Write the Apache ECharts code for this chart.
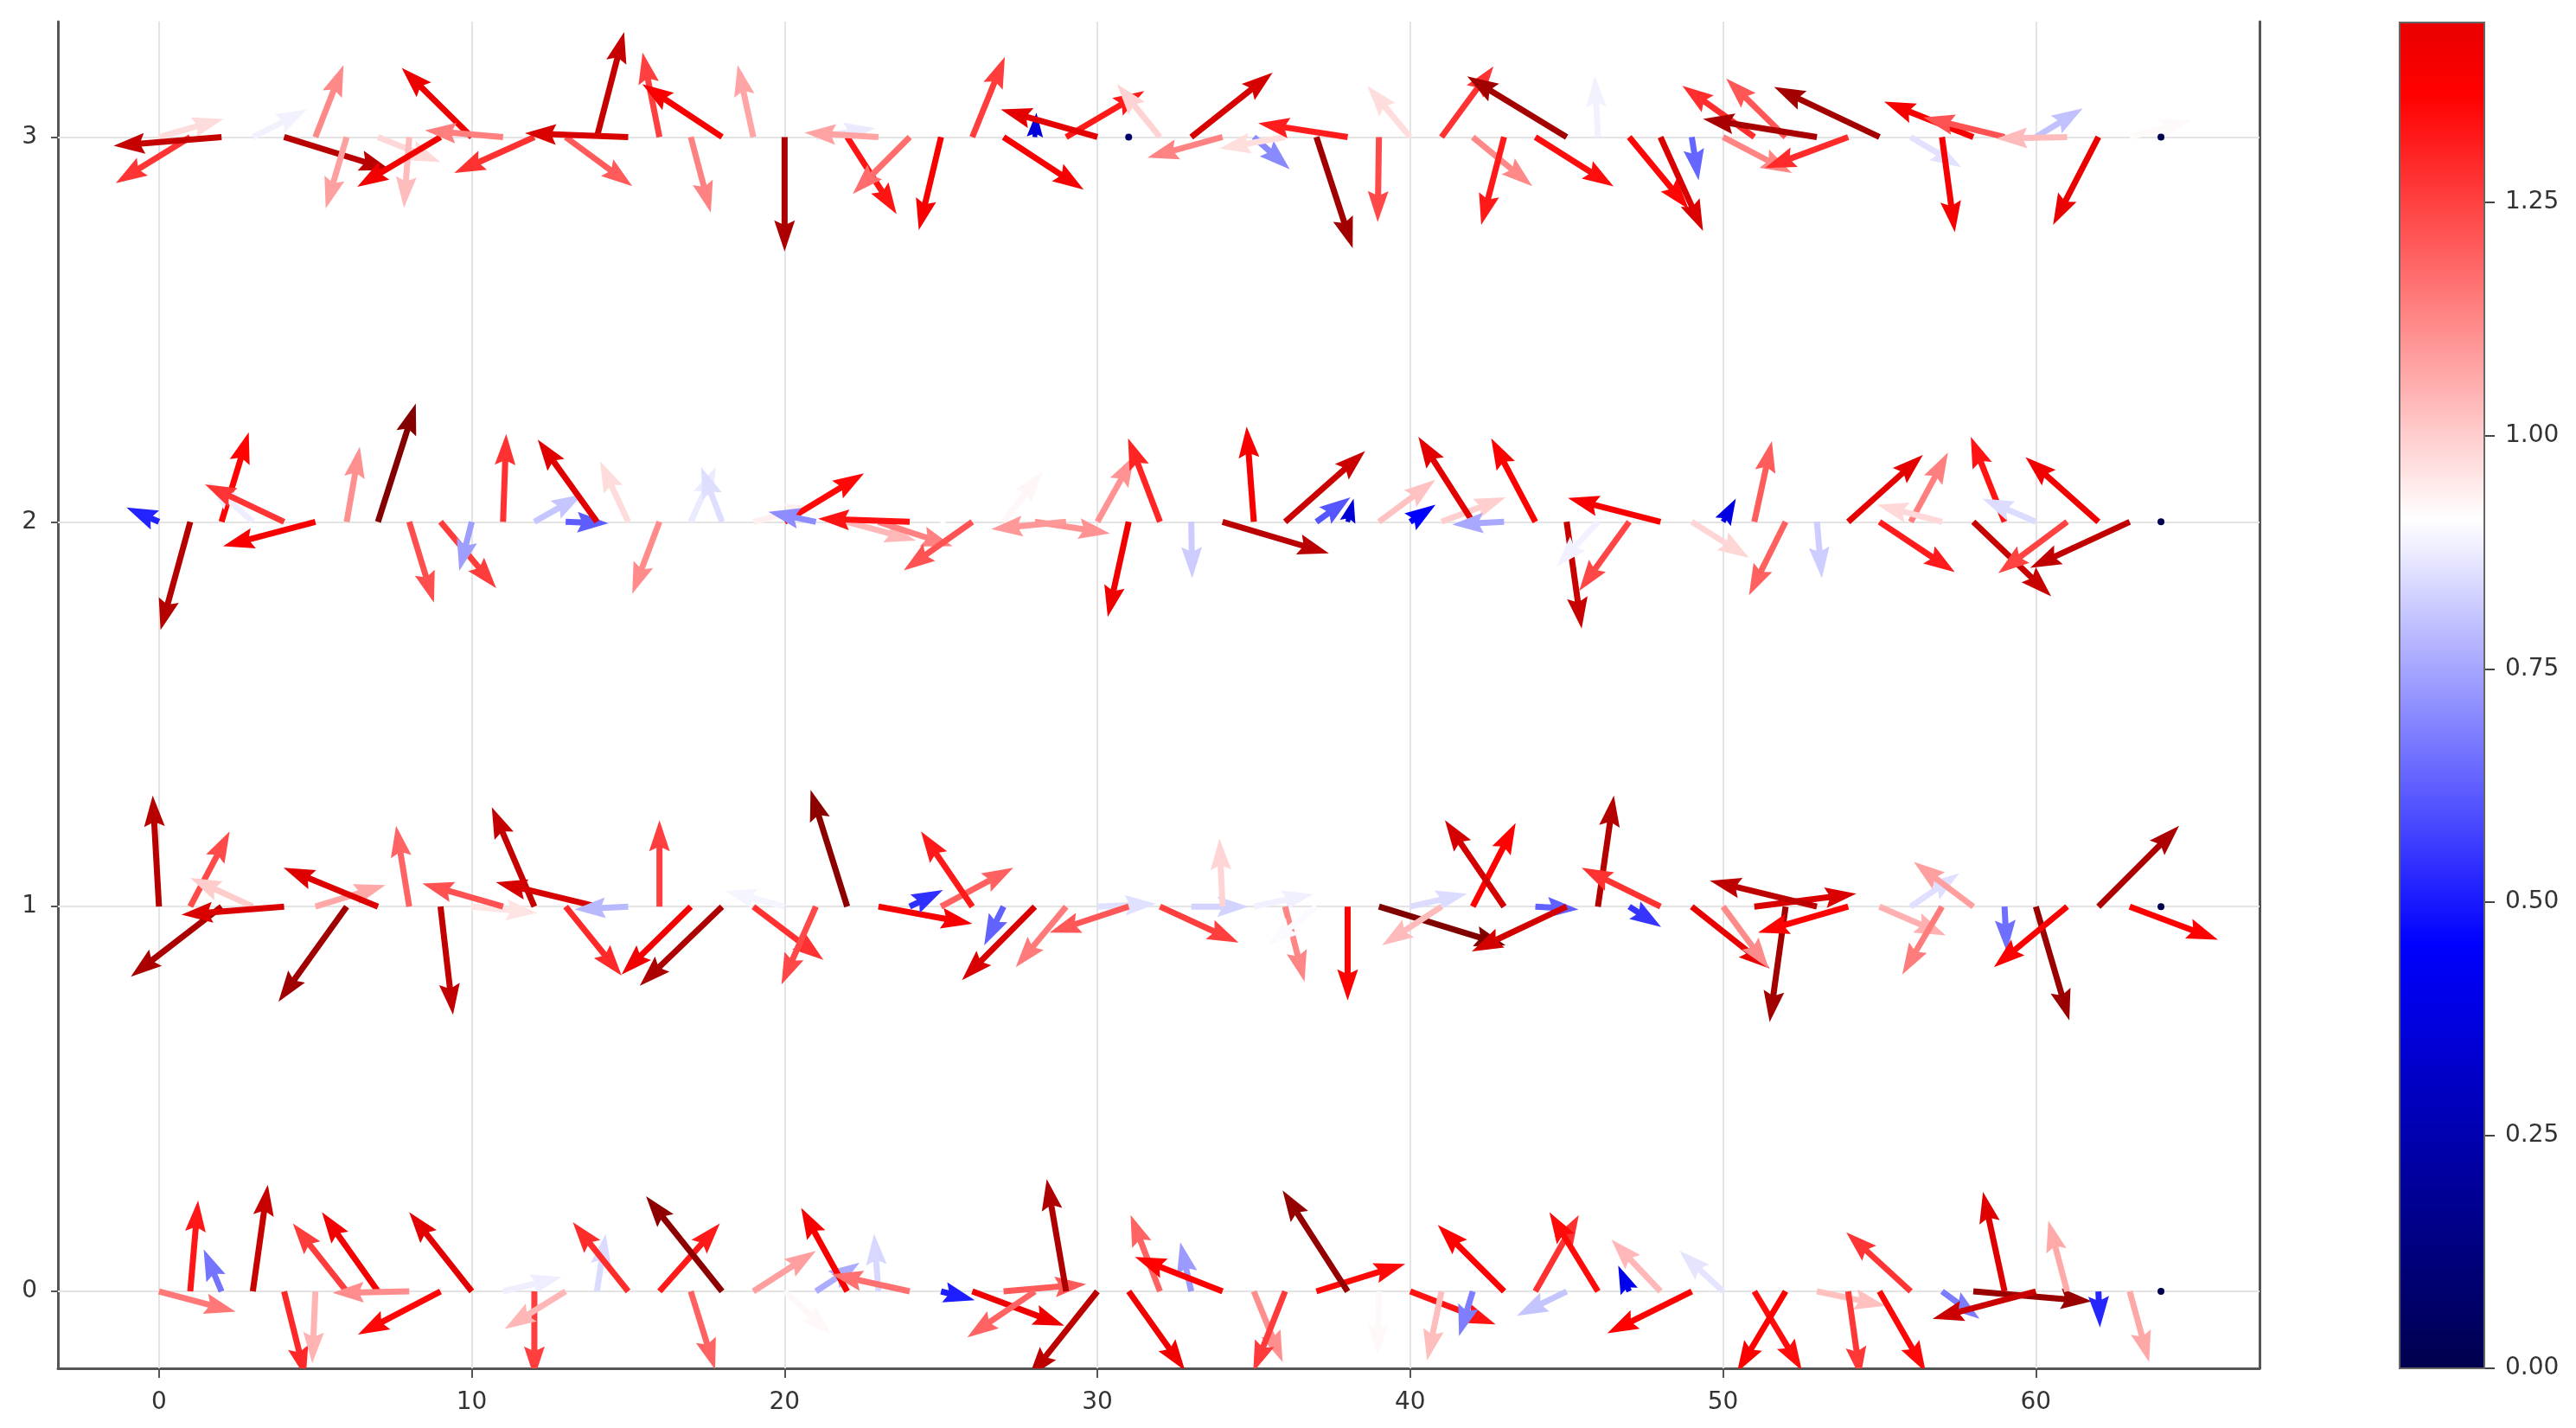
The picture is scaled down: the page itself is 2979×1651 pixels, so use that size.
<!DOCTYPE html>
<html>
<head>
<meta charset="utf-8">
<title>quiver</title>
<script src="https://cdn.jsdelivr.net/npm/echarts@6/dist/echarts.min.js"></script>
<style>
  html, body { margin: 0; padding: 0; background: #fff; }
  #main { width: 2979px; height: 1651px; }
</style>
</head>
<body>
<div id="main"></div>
<script>
// grid of arrow tails: columns 0..64, rows 0..3
const xCols = Array.from({ length: 65 }, (_, i) => i);
const yRows = [0, 1, 2, 3];

// arrow components per row (u to the right, v upwards)
const U0 = [2.45, 0.25, -0.57, 0.48, 0.69, -0.1, -1.72, -1.79, -2.45, -2.64, -2.0, 1.88, 0, -1.95, 0.28, -1.77, 1.93, 0.78, -2.43, 2.0, 1.49, 1.4, -1.47, -0.14, -2.5, 1.08, 2.94, 2.64, -2.16, -0.62, -2.2, 1.8, -0.94, -0.35, -2.8, 0.92, -1.02, 2.84, -2.08, -0.04, 2.73, -0.46, -0.44, -2.12, 1.39, -1.59, -1.55, -0.35, -1.57, -2.7, -1.39, 1.52, -1.55, 2.2, 0.39, 1.48, -2.06, 1.2, 3.79, -0.69, -3.3, -0.6, 0.05, 0.62, 0.02];
const V0 = [-0.65, 2.9, 1.34, 3.41, -2.76, -2.3, 2.17, 2.53, -0.05, -1.38, 2.53, 0.46, -2.76, -1.2, 1.84, 2.21, 2.17, -2.5, 3.04, 1.29, -1.38, 0.92, 2.67, 1.84, 0.55, -0.28, -1.1, 0.23, -1.47, 3.59, -2.76, -2.53, 2.44, 1.57, 1.1, -2.26, -2.58, 0.88, 3.23, -2.03, -1.06, -2.21, -1.43, 2.12, 2.44, -0.78, 2.53, 0.82, 1.66, -1.34, 1.29, -2.53, -2.58, -0.46, -2.76, -2.58, 1.89, -0.88, -0.32, 3.18, -0.88, 2.26, -1.15, -2.26, 0.01];

const U1 = [-0.2, 1.26, -2.9, -2.0, -3.28, 2.24, -2.18, -3.02, -0.42, 0.4, 2.1, -2.58, -1.36, 1.79, -3.23, -1.72, 0, -2.21, -2.63, 2.24, -1.9, -1.1, -1.17, 3.0, 1.06, 2.31, -1.64, -0.62, -2.33, -1.61, 1.88, -2.53, 2.51, 1.83, -0.1, 1.9, 0.62, -1.55, 0, 4.05, 1.82, -1.9, 1.37, -1.89, 1.38, -3.03, 0.51, 1.02, -2.52, 2.49, 1.46, 3.26, -0.51, -3.42, -2.88, 2.12, 1.55, -1.27, -1.9, 0.07, 1.07, -2.34, 2.58, 2.82, 0.02];
const V1 = [3.55, 2.4, -2.24, 0.92, -0.26, 0.69, -3.04, 1.24, 2.58, -3.46, -0.2, 0.74, 3.18, -2.21, 0.78, -0.09, 2.76, -2.17, -2.53, -1.7, 0.5, -2.49, 3.73, -0.55, 0.53, 1.24, 2.4, -1.24, -2.35, -1.94, 0.09, -0.83, -1.15, 0, 2.17, 0.4, -2.4, -1.24, -3.0, -1.24, 0.41, -1.24, 2.67, 2.76, -0.09, -1.43, 3.55, -0.65, 1.24, -1.98, -1.98, 0.41, -3.69, 0.83, -0.83, -0.92, 1.06, -2.17, 1.43, -1.43, -3.64, -1.94, 2.58, -1.06, 0.01];

const U2 = [-1.04, -0.95, 0.87, -1.44, -2.53, -2.95, 0.42, 1.21, 0.79, 1.78, -0.4, 0.1, 1.54, 1.37, -1.89, -0.9, -0.87, 0.8, -0.67, 2.0, 2.54, -1.52, 2.2, 2.37, -2.93, 1.24, -2.19, 1.24, 2.4, -2.39, 1.18, -0.67, -1.02, 0.03, 3.4, -0.23, 2.56, 1.09, 0.19, 1.8, 0.81, 2.05, -1.74, -1.66, -1.41, 0.48, -1.32, -1.6, -2.96, 1.83, 0.41, 0.56, -1.17, 0.16, 2.39, 2.41, 1.19, -2.08, 2.49, -1.08, -1.71, -2.2, -2.33, -3.18, 0.02];
const V2 = [0.46, -3.46, 2.86, 1.29, 1.2, -0.78, 2.4, 3.78, -2.58, -2.12, -1.57, 2.81, 0.88, -0.05, 2.63, 1.94, -2.3, 1.75, 1.75, 0.5, 1.55, 0.32, -0.6, -0.78, 0.1, -1.57, -1.55, 1.61, -0.37, -0.23, 2.12, -3.04, 2.67, -1.8, -1.01, 3.04, 2.26, 0.78, 0.74, 1.34, 0.55, 0.78, 2.72, -0.09, 2.67, -3.41, -1.43, -2.21, 0.76, -1.15, 0.74, 2.58, -2.35, -1.8, 2.14, -1.61, 2.21, 0.55, -2.38, 2.72, 0.74, -1.64, 2.07, -1.47, 0.01];

const U3 = [2.06, -2.38, -3.45, 1.74, 3.4, 0.9, -0.67, 2.0, -0.17, -2.66, -2.24, -2.5, -2.56, 2.13, 0.87, -3.3, -0.54, 0.64, -2.55, -0.5, 0, 1.9, 1.58, -2.36, -1.82, -0.71, 1.04, 2.56, 0.05, 2.5, -3.09, 0.05, -1.37, 2.6, -2.4, 1.15, -2.1, 1.16, -2.86, -0.04, -1.37, 1.66, 1.9, -0.73, 2.5, -3.18, -0.1, 1.9, 1.36, 0.22, 2.2, -2.3, -1.9, -3.64, -2.66, -3.37, 1.62, 0.41, -2.85, -2.6, 1.5, -2.27, -1.45, 1.95, 0.02];
const V3 = [0.58, -1.47, -0.28, 0.88, -1.05, 2.3, -2.28, -0.8, -2.26, -1.59, 2.21, 0.21, -1.15, -1.57, 3.36, 0.12, 2.7, -2.41, 1.69, 2.3, -3.66, 0.28, -2.46, 0.14, -1.82, -2.97, 2.56, -1.68, 0.78, 1.47, 0.88, -0.15, 1.69, 2.06, -0.66, -1.03, -0.37, -3.55, 0.44, -2.72, 1.64, 2.26, -1.57, -2.81, -1.58, 1.94, 1.95, -2.3, -3.0, -1.38, -1.15, 1.64, 1.87, 0.58, -0.99, 1.6, -0.97, -3.04, 1.13, 0.63, 0.92, -0.05, -2.81, 0.53, -0.01];

const uRows = [U0, U1, U2, U3];
const vRows = [V0, V1, V2, V3];

const xTicks = [0, 10, 20, 30, 40, 50, 60];
const yTicks = [0, 1, 2, 3];
const cbTicks = [0, 0.25, 0.5, 0.75, 1, 1.25];

const ARROW_SCALE = 2.2;   // arrow length (x units) per unit of magnitude
const C_MAX = 1.82;        // colour scale top
const CB_MAX = 1.443;      // colorbar shown up to here

// matplotlib "seismic"
const SEISMIC = [[0, 0, 77], [0, 0, 255], [255, 255, 255], [255, 0, 0], [128, 0, 0]];
function seismic(f) {
  f = Math.max(0, Math.min(1, f)) * 4;
  const i = Math.min(3, Math.floor(f)), t = f - i;
  const a = SEISMIC[i], b = SEISMIC[i + 1];
  const c = a.map((v, k) => Math.round(v + (b[k] - v) * t));
  return 'rgb(' + c.join(',') + ')';
}

const arrows = [];
yRows.forEach((y, j) => {
  xCols.forEach((x, i) => arrows.push([x, y, uRows[j][i], vRows[j][i]]));
});

const SHAFT_W = 7, HEAD_W = 12, HEAD_L = 36, HEAD_AX = 32;

function renderArrow(params, api) {
  const p = api.coord([api.value(0), api.value(1)]);
  const unit = api.size([1, 0])[0];
  const u = api.value(2), v = api.value(3);
  const dx = u * unit, dy = -v * unit;
  const len = Math.hypot(dx, dy);
  const fill = seismic(Math.hypot(u, v) / ARROW_SCALE / C_MAX);
  if (len < SHAFT_W) {
    return { type: 'circle', shape: { cx: p[0], cy: p[1], r: 4 }, style: { fill: fill } };
  }
  const ux = dx / len, uy = dy / len;
  const k = len < HEAD_L ? len / HEAD_L : 1;   // short arrows shrink as a whole
  const L = len / k, hw = SHAFT_W / 2;
  const outline = [[0, -hw], [L - HEAD_AX, -hw], [L - HEAD_L, -HEAD_W], [L, 0],
                   [L - HEAD_L, HEAD_W], [L - HEAD_AX, hw], [0, hw]];
  const points = outline.map(([a, b]) => [p[0] + k * (a * ux - b * uy), p[1] + k * (a * uy + b * ux)]);
  return { type: 'polygon', shape: { points: points }, style: { fill: fill } };
}

// colorbar gradient stops, from the same colormap
const cbStops = [0, 0.25, 0.5, 0.75].map(f => ({ offset: f * C_MAX / CB_MAX, color: seismic(f) }))
  .concat([{ offset: 1, color: seismic(CB_MAX / C_MAX) }]);

function renderColorbar(params, api) {
  const p0 = api.coord([0, 0]);
  const p1 = api.coord([1, CB_MAX]);
  return {
    type: 'rect',
    shape: { x: p0[0], y: p1[1], width: p1[0] - p0[0], height: p0[1] - p1[1] },
    style: {
      fill: new echarts.graphic.LinearGradient(0, 1, 0, 0, cbStops),
      stroke: '#666', lineWidth: 2
    }
  };
}

const axisText = { color: '#333', fontSize: 28, fontFamily: 'DejaVu Sans' };
const spine = { show: true, onZero: false, lineStyle: { color: '#555', width: 3 } };

const chart = echarts.init(document.getElementById('main'));
chart.setOption({
  animation: false,
  backgroundColor: '#fff',
  textStyle: { fontFamily: 'DejaVu Sans' },
  grid: [
    { left: 67, right: 366, top: 25, bottom: 69 },
    { left: 2775, width: 98, top: 26, bottom: 69 }
  ],
  xAxis: [
    {
      type: 'value', gridIndex: 0, min: -3.23, max: 67.15,
      axisLine: spine,
      axisTick: { show: true, customValues: xTicks, length: 11, lineStyle: { color: '#555', width: 2 } },
      axisLabel: Object.assign({ customValues: xTicks, margin: 26 }, axisText),
      splitLine: { show: false }
    },
    { type: 'value', gridIndex: 1, min: 0, max: 1, show: false }
  ],
  yAxis: [
    {
      type: 'value', gridIndex: 0, min: -0.2, max: 3.3,
      axisLine: spine,
      axisTick: { show: true, customValues: yTicks, length: 8, lineStyle: { color: '#555', width: 2 } },
      axisLabel: Object.assign({ customValues: yTicks, margin: 24 }, axisText),
      splitLine: { show: false }
    },
    {
      type: 'value', gridIndex: 1, position: 'right', min: 0, max: CB_MAX,
      axisLine: { show: false, onZero: false },
      axisTick: { show: true, customValues: cbTicks, length: 12, lineStyle: { color: '#444', width: 2 } },
      axisLabel: Object.assign({ customValues: cbTicks, margin: 24, formatter: v => v.toFixed(2) }, axisText),
      splitLine: { show: false }
    },
    {
      type: 'value', gridIndex: 0, position: 'right', min: -0.2, max: 3.3,
      axisLine: spine, axisTick: { show: false }, axisLabel: { show: false }, splitLine: { show: false }
    }
  ],
  series: [
    {
      // light grid lines behind the arrows
      type: 'line', xAxisIndex: 0, yAxisIndex: 0, data: [], z: 1, silent: true,
      markLine: {
        z: 1, silent: true, symbol: 'none', animation: false,
        label: { show: false },
        lineStyle: { color: '#e4e4e4', width: 2, type: 'solid' },
        data: xTicks.map(v => ({ xAxis: v })).concat(yTicks.map(v => ({ yAxis: v })))
      }
    },
    {
      type: 'custom', xAxisIndex: 0, yAxisIndex: 0, z: 3, clip: true,
      renderItem: renderArrow, data: arrows, silent: true
    },
    {
      type: 'custom', xAxisIndex: 1, yAxisIndex: 1, z: 3,
      renderItem: renderColorbar, data: [[0, 0]], silent: true
    }
  ]
});
</script>
</body>
</html>
